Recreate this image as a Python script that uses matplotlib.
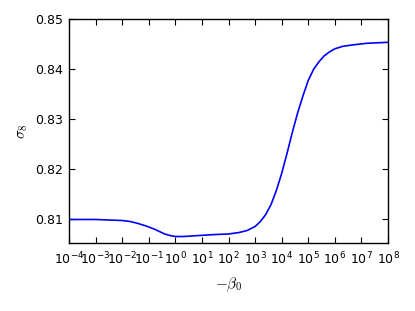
import numpy as np
import matplotlib
matplotlib.use("Agg")
import matplotlib.pyplot as plt
from matplotlib.ticker import LogLocator, NullLocator

# log10(-beta0) and sigma8
log_beta = [-4.0, -3.0, -2.0, -1.7, -1.4, -1.1, -0.8, -0.6, -0.4, -0.2, 0.0, 0.3,
            0.9, 1.5, 2.0, 2.4, 2.7, 3.0, 3.2, 3.4, 3.6, 3.8, 4.0, 4.2, 4.4,
            4.6, 4.8, 5.0, 5.2, 5.4, 5.6, 5.8, 6.0, 6.3, 6.7, 7.2, 7.6, 8.0]
sigma8 = [0.8100, 0.8100, 0.8098, 0.8096, 0.8092, 0.8087, 0.8081, 0.8076, 0.8071,
          0.8068, 0.8066, 0.8066, 0.8068, 0.8070, 0.8071, 0.8074, 0.8078, 0.8086,
          0.8096, 0.8110, 0.8130, 0.8158, 0.8192, 0.8232, 0.8274, 0.8313, 0.8347,
          0.8378, 0.8400, 0.8415, 0.8427, 0.8435, 0.8441, 0.8446, 0.8449, 0.8452,
          0.8453, 0.8454]
y_ticks = [0.81, 0.82, 0.83, 0.84, 0.85]

plt.rcParams['mathtext.fontset'] = 'cm'
plt.rcParams['axes.unicode_minus'] = False
plt.rcParams['font.size'] = 9

fig = plt.figure(figsize=(4.15, 3.11), dpi=100)
ax = fig.add_axes([0.1663, 0.2186, 0.935 - 0.1663, 0.938 - 0.2186])
x = 10.0 ** np.array(log_beta)
ax.plot(x, sigma8, color='#0000ff', lw=1.2)
ax.set_xscale('log')
ax.set_xlim(1e-4, 1e8)
ax.set_ylim(0.8053, 0.85)
ax.set_yticks(y_ticks)
ax.set_yticklabels([f"{v:.2f}" for v in y_ticks])
ax.xaxis.set_major_locator(LogLocator(base=10, numticks=20))
ax.xaxis.set_minor_locator(NullLocator())
ax.tick_params(which='major', direction='in', length=4, width=0.8,
               top=True, right=True, labelsize=9)
ax.tick_params(axis='x', pad=5.5)
ax.tick_params(axis='y', pad=4)
for s in ax.spines.values():
    s.set_linewidth(1.0)
ax.set_xlabel(r'$-\beta_0$', fontsize=11, labelpad=6)
ax.set_ylabel(r'$\sigma_8$', fontsize=11)
fig.savefig('out.png', dpi=100)
